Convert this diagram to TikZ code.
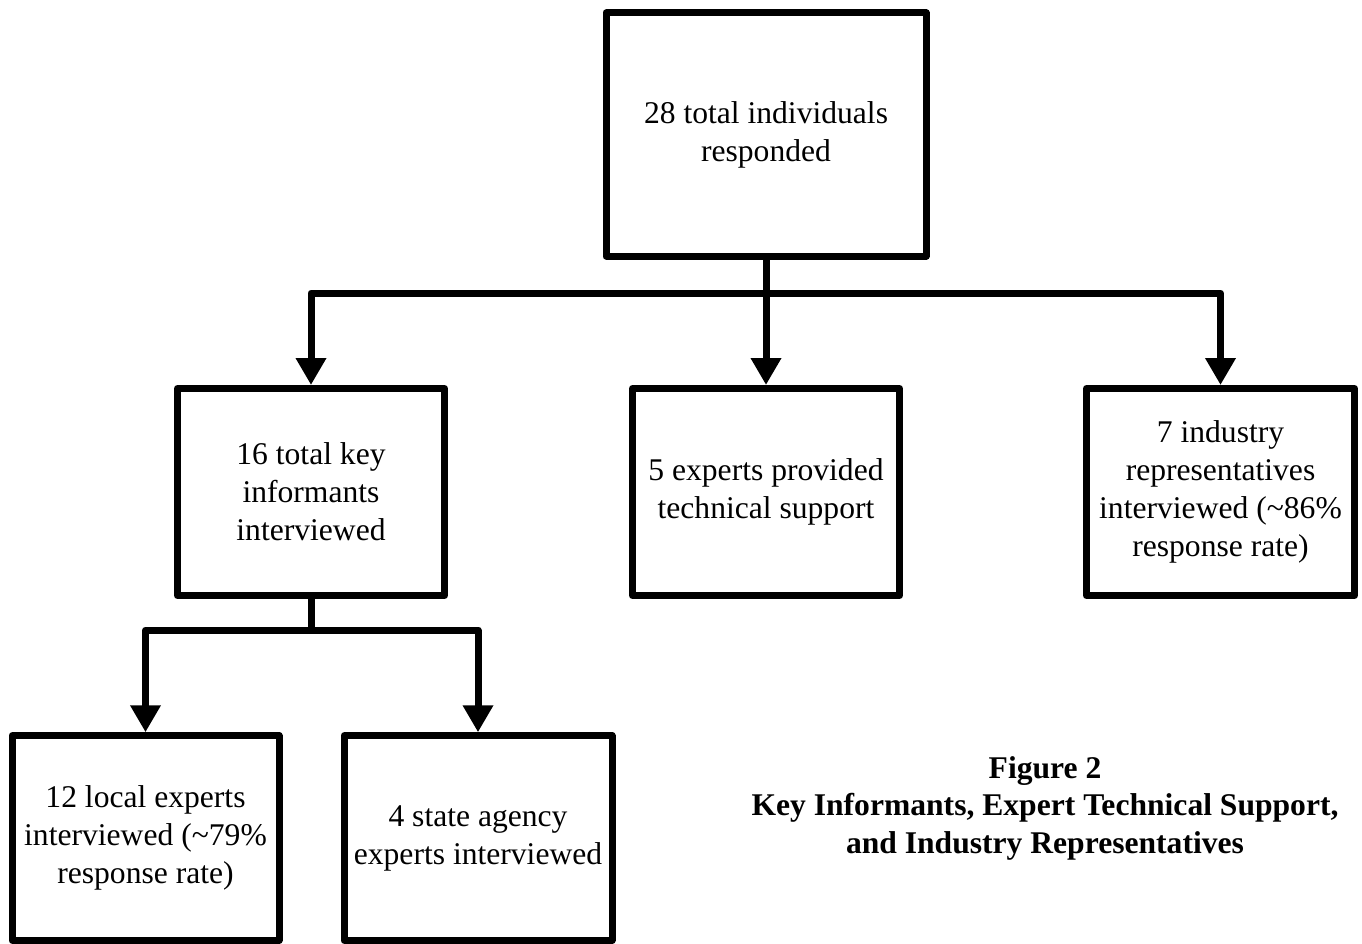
\documentclass[tikz,border=0pt]{standalone}
\usepackage{fontspec}
\setmainfont{Liberation Serif}
\usetikzlibrary{arrows.meta}
\tikzset{
  boxnode/.style={draw=black, line width=7pt, line join=round, fill=white,
    align=center, inner sep=0pt, font=\fontsize{31.6}{38}\selectfont},
  conn/.style={draw=black, line width=7pt, line join=round},
  arr/.style={conn, -{Triangle[width=29pt,length=27pt]}},
  caption/.style={align=center, inner sep=0pt, font=\bfseries\fontsize{31.6}{37.5}\selectfont}
}
\begin{document}
\begin{tikzpicture}[x=1pt,y=-1pt]
\useasboundingbox (0,0) rectangle (1362,944);
\node[boxnode, minimum width=320pt, minimum height=243pt] (top) at (766,134.5)
  {28 total individuals\\responded};
\node[boxnode, minimum width=267pt, minimum height=207pt] (ml) at (311,492)
  {16 total key\\informants\\interviewed};
\node[boxnode, minimum width=267pt, minimum height=207pt] (mid) at (766,492)
  {5 experts provided\\technical support};
\node[boxnode, minimum width=268pt, minimum height=207pt] (rt) at (1220.5,492)
  {7 industry\\representatives\\interviewed (\textasciitilde86\%\\response rate)};
\node[boxnode, minimum width=267pt, minimum height=204.5pt] (bl) at (145.5,838)
  {12 local experts\\interviewed (\textasciitilde79\%\\response rate)};
\node[boxnode, minimum width=268pt, minimum height=204.5pt] (br) at (478,838)
  {4 state agency\\experts interviewed};
\node[caption] (cap) at (1045,808)
  {Figure 2\\Key Informants, Expert Technical Support,\\and Industry Representatives};
\coordinate (b1) at (766,293);
\coordinate (b2) at (311,630);
\draw[conn] (top.south) -- (b1);
\draw[arr] (b1) -| (ml.north);
\draw[arr] (b1) -| (rt.north);
\draw[arr] (b1) -- (mid.north);
\draw[conn] (ml.south) -- (b2);
\draw[arr] (b2) -| (bl.north);
\draw[arr] (b2) -| (br.north);
\end{tikzpicture}
\end{document}
